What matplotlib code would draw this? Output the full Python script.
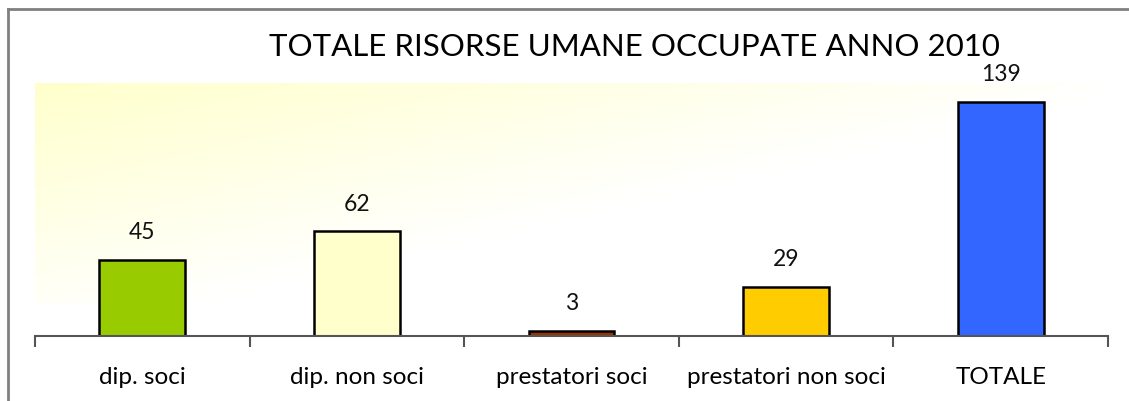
import numpy as np
import matplotlib.pyplot as plt
from matplotlib.lines import Line2D

categorie = ['dip. soci', 'dip. non soci', 'prestatori soci', 'prestatori non soci', 'TOTALE']
valori = [45, 62, 3, 29, 139]
colori = ['#99CC00', '#FFFFCC', '#993300', '#FFCC00', '#3366FF']

plt.rcParams['font.family'] = ['Lato', 'DejaVu Sans']

fig = plt.figure(figsize=(11.29, 4.01), dpi=100)
ax = fig.add_axes([35/1129, 65/401, 1073/1129, 253/401])

x = np.arange(len(categorie))
ax.set_xlim(-0.5, len(categorie) - 0.5)
ax.set_ylim(0, 150)

# sfondo sfumato giallo -> bianco
nx, ny = 200, 100
u = np.linspace(0, 1, nx)
v = np.linspace(0, 1, ny)
U, V = np.meshgrid(u, v)
w = np.clip(1 - 0.95 * U - 0.85 * V, 0, 1)
giallo = np.array([1.0, 1.0, 0.8])
img = np.ones((ny, nx, 3)) * (1 - w[..., None]) + giallo * w[..., None]
ax.imshow(img, extent=(-0.5, len(categorie) - 0.5, 19.5, 150), aspect='auto', zorder=0, origin='upper')

bars = ax.bar(x, valori, width=0.4, color=colori, edgecolor='black', linewidth=1.8, zorder=2)
for xi, val in zip(x, valori):
    ax.text(xi, val + 10, str(val), ha='center', va='bottom', fontsize=16.5, color='#111111')

for s in ['top', 'right', 'left']:
    ax.spines[s].set_visible(False)
ax.spines['bottom'].set_color('#555555')
ax.spines['bottom'].set_linewidth(1.5)
ax.set_yticks([])
ax.set_xticks(x)
ax.set_xticklabels(categorie, fontsize=17.5)
ax.tick_params(axis='x', which='major', length=0, pad=22)
ax.set_xticks(np.arange(-0.5, len(categorie)), minor=True)
ax.tick_params(axis='x', which='minor', length=8, width=1.5, color='#555555')

fig.text(634/1129, 1 - 47/401, 'TOTALE RISORSE UMANE OCCUPATE ANNO 2010',
         ha='center', va='center', fontsize=22.5)

# cornice
fig.add_artist(Line2D([8/1129, 8/1129], [0, 1 - 9/401], color='#808080', lw=2, transform=fig.transFigure))
fig.add_artist(Line2D([8/1129, 1], [1 - 9/401, 1 - 9/401], color='#808080', lw=2, transform=fig.transFigure))

fig.savefig('out.png', dpi=100)
